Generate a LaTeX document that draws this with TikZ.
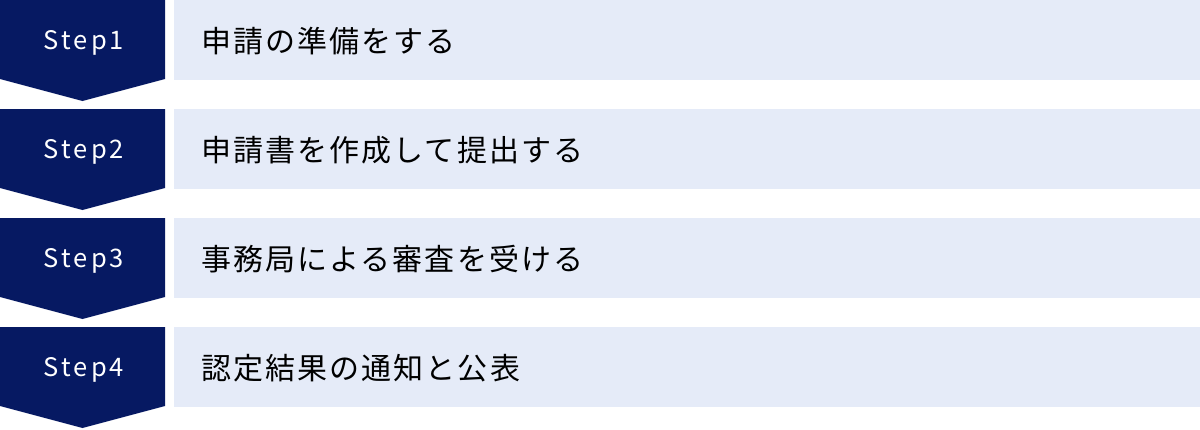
\documentclass[tikz,border=0pt]{standalone}
\usepackage{fontspec}
\setmainfont{Noto Sans CJK JP}
\definecolor{stepnavy}{RGB}{6,25,98}
\definecolor{barblue}{RGB}{229,235,248}
\begin{document}
\begin{tikzpicture}[x=1pt,y=1pt,
  steplabel/.style={anchor=base,text=white,inner sep=0pt,
    font=\fontsize{25.5}{28}\selectfont\addfontfeature{LetterSpace=12}},
  bartext/.style={anchor=base west,inner sep=0pt,
    font=\fontsize{30}{33}\selectfont\addfontfeature{LetterSpace=7}}]
\useasboundingbox (0,0) rectangle (1200,-429);
\foreach \i/\txt in {1/申請の準備をする,2/申請書を作成して提出する,3/事務局による審査を受ける,4/認定結果の通知と公表} {
  \coordinate (T\i) at (0,{-109*(\i-1)});
  \fill[stepnavy] (T\i) -- ++(165,0) -- ++(0,-79) -- ++(-82.5,-22) -- ++(-82.5,22) -- cycle;
  \fill[barblue] ([xshift=174pt]T\i) rectangle ++(1026,-80);
  \node[steplabel] (S\i) at ([shift={(84,-49)}]T\i) {Step\i};
  \node[bartext] (B\i) at ([shift={(201,-52)}]T\i) {\txt};
}
\end{tikzpicture}
\end{document}
